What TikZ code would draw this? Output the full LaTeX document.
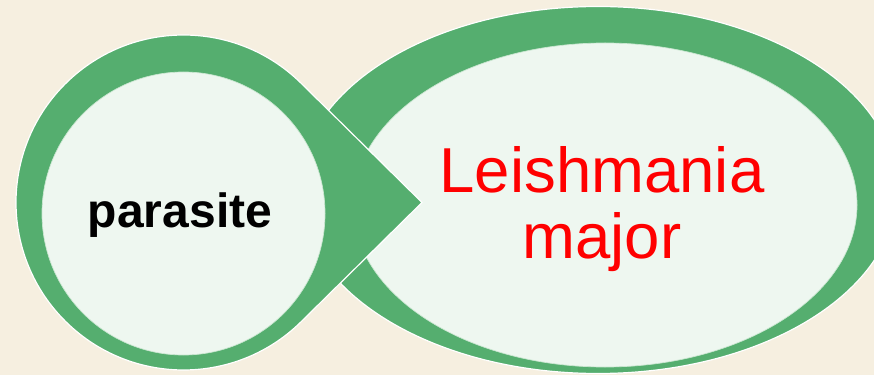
\documentclass[tikz,border=0pt]{standalone}
\usepackage{fontspec}
\setmainfont{Liberation Sans}
\usepackage{xcolor}
\usetikzlibrary{calc}
\definecolor{ringgreen}{HTML}{55AE6F}
\definecolor{softfill}{HTML}{EEF7F0}
\definecolor{paper}{HTML}{F6EFE0}
\definecolor{rimline}{HTML}{C9E6D0}

\begin{document}
\begin{tikzpicture}[
  x=1pt,y=1pt,
  ring/.style={fill=ringgreen,draw=white,line width=1.2pt},
  core/.style={fill=softfill,draw=rimline,line width=.7pt},
  label/.style={inner sep=0pt,align=center}
]
\useasboundingbox (0,0) rectangle (874,375);
\fill[paper] (0,0) rectangle (874,375);
\clip (0,0) rectangle (874,375);
% right ellipse
\coordinate (bigc) at (598,185);
\coordinate (bigin) at (605,170);
\draw[ring] (bigc) ellipse[x radius=299pt,y radius=183.5pt];
\draw[core] (bigin) ellipse[x radius=252pt,y radius=162pt];
% left circle with pointer
\coordinate (smallc) at (183.5,172.5);
\coordinate (tip) at (422,172.5);
\coordinate (smallin) at (183.5,161.5);
\draw[ring] (smallc) ++(45.39:167.5pt)
  arc[start angle=45.39,end angle=314.61,radius=167.5pt] -- (tip) -- cycle;
\draw[core] (smallin) circle[radius=141.5pt];
% texts
\node[label,anchor=base,font={\fontsize{48}{58}\selectfont\bfseries}]
  (parasite) at (180,148) {parasite};
\node[label,text=red,font={\fontsize{63.5}{66}\selectfont}]
  (species) at (602,166) {Leishmania\\major};
\end{tikzpicture}
\end{document}
